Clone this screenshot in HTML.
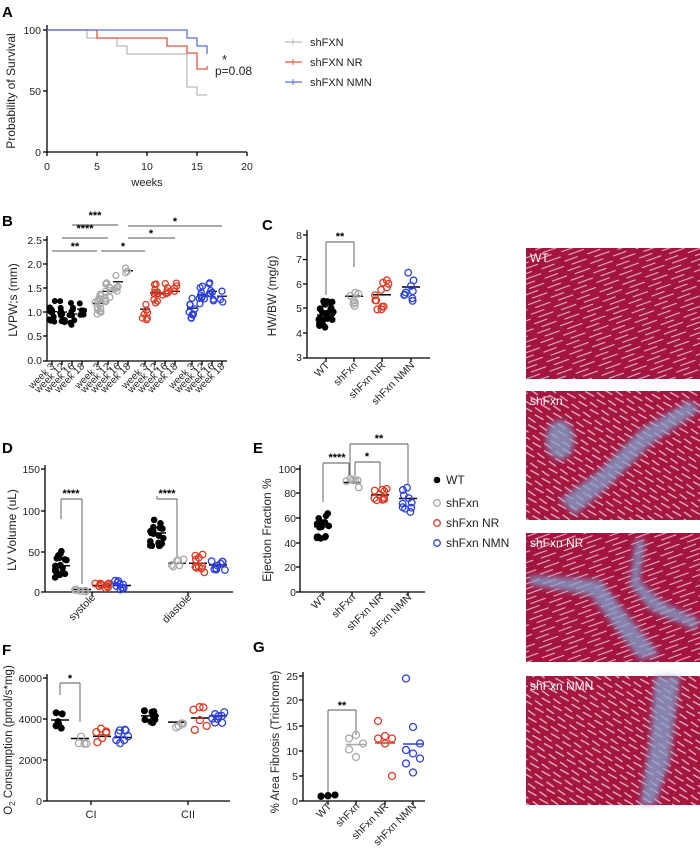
<!DOCTYPE html>
<html><head><meta charset="utf-8">
<style>
html,body{margin:0;padding:0;background:#fff;}
svg{display:block;font-family:"Liberation Sans",Arial,sans-serif;}
</style></head>
<body>
<svg id="s" width="700" height="853" viewBox="0 0 700 853" xmlns="http://www.w3.org/2000/svg">
<defs>
<pattern id="fib" width="24" height="10" patternUnits="userSpaceOnUse" patternTransform="rotate(-18)">
<rect width="24" height="10" fill="#a3153f"/>
<path d="M0 3 L14 2.5 M6 8 L22 7.5" stroke="#f3dbe6" stroke-width="1.1" opacity="0.85"/>
</pattern>
<pattern id="fib2" width="14" height="12" patternUnits="userSpaceOnUse" patternTransform="rotate(35)">
<rect width="14" height="12" fill="#a5173f"/>
<path d="M0 3 L9 3 M4 9 L14 8" stroke="#f1d8e4" stroke-width="1.2" opacity="0.85"/>
</pattern>
<filter id="bl"><feGaussianBlur stdDeviation="3"/></filter>
</defs>
<g font-size="11" fill="#000">
<!-- Panel labels -->
<text x="2" y="17" font-size="15" font-weight="bold">A</text>
<text x="2" y="226" font-size="15" font-weight="bold">B</text>
<text x="262" y="230" font-size="15" font-weight="bold">C</text>
<text x="2" y="453" font-size="15" font-weight="bold">D</text>
<text x="253" y="453" font-size="15" font-weight="bold">E</text>
<text x="2" y="655" font-size="15" font-weight="bold">F</text>
<text x="253" y="652" font-size="15" font-weight="bold">G</text>
</g>
<g id="axes" stroke="#000" stroke-width="1.3" fill="none"></g>
<g id="txt" font-size="10.5" fill="#222"></g>
<g id="pts"></g>

<!-- static texts -->
<g font-size="11" fill="#222">
<text transform="translate(15,91) rotate(-90)" text-anchor="middle" font-size="12">Probability of Survival</text>
<text x="147" y="186" text-anchor="middle">weeks</text>
<text x="310" y="46">shFXN</text>
<text x="310" y="66">shFXN NR</text>
<text x="310" y="86">shFXN NMN</text>
<text x="222" y="64" font-size="13">*</text>
<text x="215" y="75" font-size="12">p=0.08</text>
<text transform="translate(17,300) rotate(-90)" text-anchor="middle" font-size="12">LVPW;s (mm)</text>
<text transform="translate(276,296) rotate(-90)" text-anchor="middle" font-size="12">HW/BW (mg/g)</text>
<text transform="translate(16,530) rotate(-90)" text-anchor="middle" font-size="12">LV Volume (uL)</text>
<text transform="translate(271,530) rotate(-90)" text-anchor="middle" font-size="12">Ejection Fraction %</text>
<text transform="translate(12,740) rotate(-90)" text-anchor="middle" font-size="11.5">O<tspan font-size="8" dy="3">2</tspan><tspan dy="-3"> Consumption (pmol/s*mg)</tspan></text>
<text transform="translate(279,742) rotate(-90)" text-anchor="middle" font-size="11.5">% Area Fibrosis  (Trichrome)</text>
<text x="91" y="818" text-anchor="middle">CI</text>
<text x="188" y="818" text-anchor="middle">CII</text>
<text x="446" y="484" font-size="12">WT</text>
<text x="446" y="507" font-size="12">shFxn</text>
<text x="446" y="527" font-size="12">shFxn NR</text>
<text x="446" y="547" font-size="12">shFxn NMN</text>
</g>
<g font-size="10" fill="#222">
<text transform="translate(55,367) rotate(-45)" text-anchor="end">week 3</text>
<text transform="translate(65,367) rotate(-45)" text-anchor="end">week 12</text>
<text transform="translate(75,367) rotate(-45)" text-anchor="end">week 16</text>
<text transform="translate(85,367) rotate(-45)" text-anchor="end">week 18</text>
<text transform="translate(101,367) rotate(-45)" text-anchor="end">week 3</text>
<text transform="translate(111,367) rotate(-45)" text-anchor="end">week 12</text>
<text transform="translate(121,367) rotate(-45)" text-anchor="end">week 16</text>
<text transform="translate(131,367) rotate(-45)" text-anchor="end">week 18</text>
<text transform="translate(148,367) rotate(-45)" text-anchor="end">week 3</text>
<text transform="translate(158,367) rotate(-45)" text-anchor="end">week 12</text>
<text transform="translate(168,367) rotate(-45)" text-anchor="end">week 16</text>
<text transform="translate(178,367) rotate(-45)" text-anchor="end">week 18</text>
<text transform="translate(195,367) rotate(-45)" text-anchor="end">week 3</text>
<text transform="translate(205,367) rotate(-45)" text-anchor="end">week 12</text>
<text transform="translate(215,367) rotate(-45)" text-anchor="end">week 16</text>
<text transform="translate(225,367) rotate(-45)" text-anchor="end">week 18</text>
</g>
<g font-size="10.5" fill="#222">
<text transform="translate(330,366) rotate(-45)" text-anchor="end">WT</text>
<text transform="translate(358,366) rotate(-45)" text-anchor="end">shFxn</text>
<text transform="translate(386,366) rotate(-45)" text-anchor="end">shFxn NR</text>
<text transform="translate(415,366) rotate(-45)" text-anchor="end">shFxn NMN</text>
<text transform="translate(96,598) rotate(-45)" text-anchor="end">systole</text>
<text transform="translate(192,598) rotate(-45)" text-anchor="end">diastole</text>
<text transform="translate(327,598) rotate(-45)" text-anchor="end">WT</text>
<text transform="translate(356,598) rotate(-45)" text-anchor="end">shFxn</text>
<text transform="translate(384,598) rotate(-45)" text-anchor="end">shFxn NR</text>
<text transform="translate(412,598) rotate(-45)" text-anchor="end">shFxn NMN</text>
<text transform="translate(332,807) rotate(-45)" text-anchor="end">WT</text>
<text transform="translate(360,807) rotate(-45)" text-anchor="end">shFxn</text>
<text transform="translate(389,807) rotate(-45)" text-anchor="end">shFxn NR</text>
<text transform="translate(417,807) rotate(-45)" text-anchor="end">shFxn NMN</text>
</g>
<!-- tick labels -->
<g font-size="10.5" fill="#222" text-anchor="end">
<text x="41" y="34">100</text><text x="41" y="95">50</text><text x="41" y="156">0</text>
<text x="42" y="244">2.5</text><text x="42" y="268">2.0</text><text x="42" y="292">1.5</text><text x="42" y="316">1.0</text><text x="42" y="340">0.5</text><text x="42" y="364">0.0</text>
<text x="302" y="239">8</text><text x="302" y="263">7</text><text x="302" y="288">6</text><text x="302" y="312">5</text><text x="302" y="337">4</text><text x="302" y="361">3</text>
<text x="40" y="473">150</text><text x="40" y="515">100</text><text x="40" y="556">50</text><text x="40" y="596">0</text>
<text x="296" y="473">100</text><text x="296" y="497">80</text><text x="296" y="522">60</text><text x="296" y="547">40</text><text x="296" y="571">20</text><text x="296" y="596">0</text>
<text x="42" y="682">6000</text><text x="42" y="723">4000</text><text x="42" y="764">2000</text><text x="42" y="805">0</text>
<text x="298" y="680">25</text><text x="298" y="704">20</text><text x="298" y="730">15</text><text x="298" y="755">10</text><text x="298" y="780">5</text><text x="298" y="805">0</text>
</g>
<g font-size="10.5" fill="#222" text-anchor="middle">
<text x="47" y="170">0</text><text x="97" y="170">5</text><text x="147" y="170">10</text><text x="197" y="170">15</text><text x="247" y="170">20</text>
</g>
<!-- significance stars -->
<g font-size="11" fill="#000" text-anchor="middle" font-weight="bold">
<text x="75" y="250">**</text><text x="85" y="232">****</text><text x="95" y="219">***</text>
<text x="123" y="250">*</text><text x="151" y="237">*</text><text x="175" y="225">*</text>
<text x="340" y="240">**</text>
<text x="71" y="497">****</text><text x="167" y="497">****</text>
<text x="337" y="461">****</text><text x="367" y="460">*</text><text x="379" y="442">**</text>
<text x="70" y="682">*</text>
<text x="342" y="709">**</text>
</g>
<!-- histology -->
<g>
<rect x="526" y="248" width="174" height="131" fill="url(#fib)"/>
<rect x="526" y="391" width="174" height="129" fill="url(#fib2)"/>
<rect x="526" y="533" width="174" height="129" fill="url(#fib)"/>
<rect x="526" y="676" width="174" height="129" fill="url(#fib2)"/>
<g filter="url(#bl)" opacity="0.75" fill="#7fa6d2">
<path d="M560 500 L600 470 L640 430 L690 400 L700 410 L650 445 L610 485 L575 515 Z"/>
<ellipse cx="560" cy="440" rx="14" ry="20"/>
<path d="M645 540 L640 580 L660 600 L700 620 L695 630 L650 610 L630 585 L635 540Z"/>
<path d="M530 575 L600 580 L660 655 L640 660 L590 595 L530 585Z"/>
<path d="M655 676 L680 676 L670 760 L655 805 L640 805 L650 740Z"/>
</g>
</g>
<g font-size="12" fill="#fff">
<text x="530" y="262">WT</text>
<text x="530" y="405">shFxn</text>
<text x="530" y="547">shFxn NR</text>
<text x="530" y="690">shFxn NMN</text>
</g>
</svg>
<script>
(function(){
var NS="http://www.w3.org/2000/svg";
var ax=document.getElementById("axes"),pts=document.getElementById("pts");
function L(x1,y1,x2,y2,c,w,g){var e=document.createElementNS(NS,"line");e.setAttribute("x1",x1);e.setAttribute("y1",y1);e.setAttribute("x2",x2);e.setAttribute("y2",y2);e.setAttribute("stroke",c||"#000");e.setAttribute("stroke-width",w||1.3);(g||ax).appendChild(e);}
function P(d,c,w){var e=document.createElementNS(NS,"path");e.setAttribute("d",d);e.setAttribute("stroke",c);e.setAttribute("stroke-width",w||1.3);e.setAttribute("fill","none");pts.appendChild(e);}
function C(x,y,col,filled,r){var e=document.createElementNS(NS,"circle");e.setAttribute("cx",x);e.setAttribute("cy",y);e.setAttribute("r",r||3.3);if(filled){e.setAttribute("fill",col);}else{e.setAttribute("fill","none");e.setAttribute("stroke",col);e.setAttribute("stroke-width",1.3);}pts.appendChild(e);}
var seed=7;function rnd(){seed=(seed*9301+49297)%233280;return seed/233280;}
var K="#000",G="#a8a8a8",R="#dc3a22",B="#2b3fe0";
// axes helper
function yaxis(x,y0,y1,ticks){L(x,y0,x,y1);ticks.forEach(function(t){L(x-4,t,x,t);});}
function xaxis(y,x0,x1,ticks){L(x0,y,x1,y);ticks.forEach(function(t){L(t,y,t,y+4);});}
// A
yaxis(47,25,152,[30,91,152]);xaxis(152,47,247,[47,97,147,197,247]);
P("M47 30 H87 V38 H117 V46 H127 V54 H187 V87 H197 V95 H207","#bbbbbb",1.3);
P("M47 30 H97 V38 H167 V46 H187 V53 H197 V69 H207 V66","#e05540",1.3);
P("M47 30 H187 V38 H197 V46 H207 V54","#5a6fe0",1.3);
L(285,42,302,42,"#bbbbbb");L(285,62,302,62,"#e05540");L(285,82,302,82,"#5a6fe0");
L(293,39,293,45,"#bbbbbb",1);L(293,59,293,65,"#e05540",1);L(293,79,293,85,"#5a6fe0",1);
// B
yaxis(47,236,361,[240,264,288,312,336,361]);
var bx=[52,62,72,82,98,108,118,128,145,155,165,175,192,202,212,222];
xaxis(361,47,227,bx);
function yB(v){return 361-v*48;}
var bm=[1.03,1.02,0.98,1.08,1.2,1.45,1.65,1.88,1.08,1.42,1.4,1.45,1.1,1.38,1.45,1.35];
var bn=[12,10,10,5,14,10,5,3,7,10,6,4,10,9,8,3];
for(var i=0;i<16;i++){var col=i<4?K:i<8?G:i<12?R:B;for(var j=0;j<bn[i];j++){var v=bm[i]+(rnd()-0.5)*(i<4?0.5:0.45);C(bx[i]+(rnd()-0.5)*6,yB(v),col,i<4,3);}L(bx[i]-5,yB(bm[i]),bx[i]+5,yB(bm[i]),"#000",1.3);}
[[52,97,251],[62,108,238],[72,118,225],[101,145,251],[128,175,238],[128,222,226]].forEach(function(s){L(s[0],s[2],s[1],s[2],"#555",0.9);});
// C
yaxis(307,230,358,[235,259.5,284,308,333,358]);xaxis(358,307,430,[326,354,382,411]);
function yC(v){return 358-(v-3)*24.5;}
var cd=[[K,1,4.75,28,0.6],[G,0,5.52,7,0.45],[R,0,5.58,12,0.6],[B,0,5.9,9,0.65]];
var cx=[326,354,382,411];
cd.forEach(function(d,i){for(var j=0;j<d[3];j++){C(cx[i]+(rnd()-0.5)*(i==0?16:14),yC(d[2]+(rnd()-0.5)*2*d[4]),d[0],d[1],3.3);}L(cx[i]-9,yC(d[2]),cx[i]+9,yC(d[2]),"#000",1.5);});
L(326,295,326,242,"#555",0.9);L(326,242,354,242,"#555",0.9);L(354,242,354,267,"#555",0.9);
// D
yaxis(45,465,592,[469,511,552,592]);xaxis(592,45,233,[92,188]);
function yD(v){return 592-v*0.82;}
var dd=[[61,K,1,32,20,18],[82,G,0,3,4,6],[102,R,0,8,4,10],[122,B,0,8,6,9],[157,K,1,72,16,18],[177,G,0,35,6,6],[198,R,0,35,11,10],[218,B,0,33,8,9]];
dd.forEach(function(d){for(var j=0;j<d[5];j++){C(d[0]+(rnd()-0.5)*14,yD(Math.max(0.5,d[3]+(rnd()-0.5)*2*d[4])),d[1],d[2],3.3);}L(d[0]-9,yD(d[3]),d[0]+9,yD(d[3]),"#000",1.5);});
L(61,519,61,499,"#555",0.9);L(61,499,82,499,"#555",0.9);L(82,499,82,584,"#555",0.9);
L(157,496,157,499,"#555",0.9);L(157,499,177,499,"#555",0.9);L(177,499,177,557,"#555",0.9);
// E
yaxis(300,465,592,[469,493,518,543,567,592]);xaxis(592,300,425,[323,352,380,408]);
function yE(v){return 592-v*1.23;}
var ed=[[323,K,1,53,12,18],[352,G,0,89,4,6],[380,R,0,79,5,10],[408,B,0,76,11,10]];
ed.forEach(function(d){for(var j=0;j<d[5];j++){C(d[0]+(rnd()-0.5)*14,yE(d[3]+(rnd()-0.5)*2*d[4]),d[1],d[2],3.3);}L(d[0]-9,yE(d[3]),d[0]+9,yE(d[3]),"#000",1.5);});
L(323,502,323,463,"#555",0.9);L(323,463,349,463,"#555",0.9);L(349,463,349,476,"#555",0.9);
L(355,476,355,462,"#555",0.9);L(355,462,380,462,"#555",0.9);L(380,462,380,488,"#555",0.9);
L(350,476,350,444,"#555",0.9);L(350,444,408,444,"#555",0.9);L(408,444,408,484,"#555",0.9);
C(437,480,K,1,3.3);C(437,503,G,0,3.3);C(437,523,R,0,3.3);C(437,543,B,0,3.3);
// F
yaxis(47,674,801,[678,719,760,801]);xaxis(801,47,230,[91,188]);
function yF(v){return 801-v*0.0205;}
var fd=[[60,K,1,3950,400,6],[80,G,0,3050,300,4],[102,R,0,3150,450,6],[123,B,0,3100,400,8],[150,K,1,4150,450,10],[177,G,0,3850,400,4],[200,R,0,4050,600,6],[218,B,0,4150,350,8]];
fd.forEach(function(d){for(var j=0;j<d[5];j++){C(d[0]+(rnd()-0.5)*14,yF(d[3]+(rnd()-0.5)*2*d[4]),d[1],d[2],3.5);}L(d[0]-9,yF(d[3]),d[0]+9,yF(d[3]),"#000",1.5);});
L(60,695,60,683,"#555",0.9);L(60,683,80,683,"#555",0.9);L(80,683,80,722,"#555",0.9);
// G
yaxis(303,672,801,[676,700,726,751,776,801]);xaxis(801,303,425,[328,356,385,413]);
function yG(v){return 801-v*5;}
var gd=[[328,K,1,[1,1.1,1.2,0.9,1.0,1.2],1.1],[356,G,0,[12.5,13.2,11.5,10.3,8.8],11.3],[385,R,0,[16,13,12.5,12.5,11.5,5],11.6],[413,B,0,[24.5,14.8,11.5,10.2,9.5,8.5,7.5,5.7],11.4]];
gd.forEach(function(d){d[3].forEach(function(v,j){C(d[0]+((j%3)-1)*7,yG(v),d[1],d[2],3.5);});L(d[0]-10,yG(d[4]),d[0]+10,yG(d[4]),d[1]==K?"#000":d[1],1.5);});
L(328,795,328,710,"#555",0.9);L(328,710,356,710,"#555",0.9);L(356,710,356,735,"#555",0.9);
})();
</script>
</body></html>
